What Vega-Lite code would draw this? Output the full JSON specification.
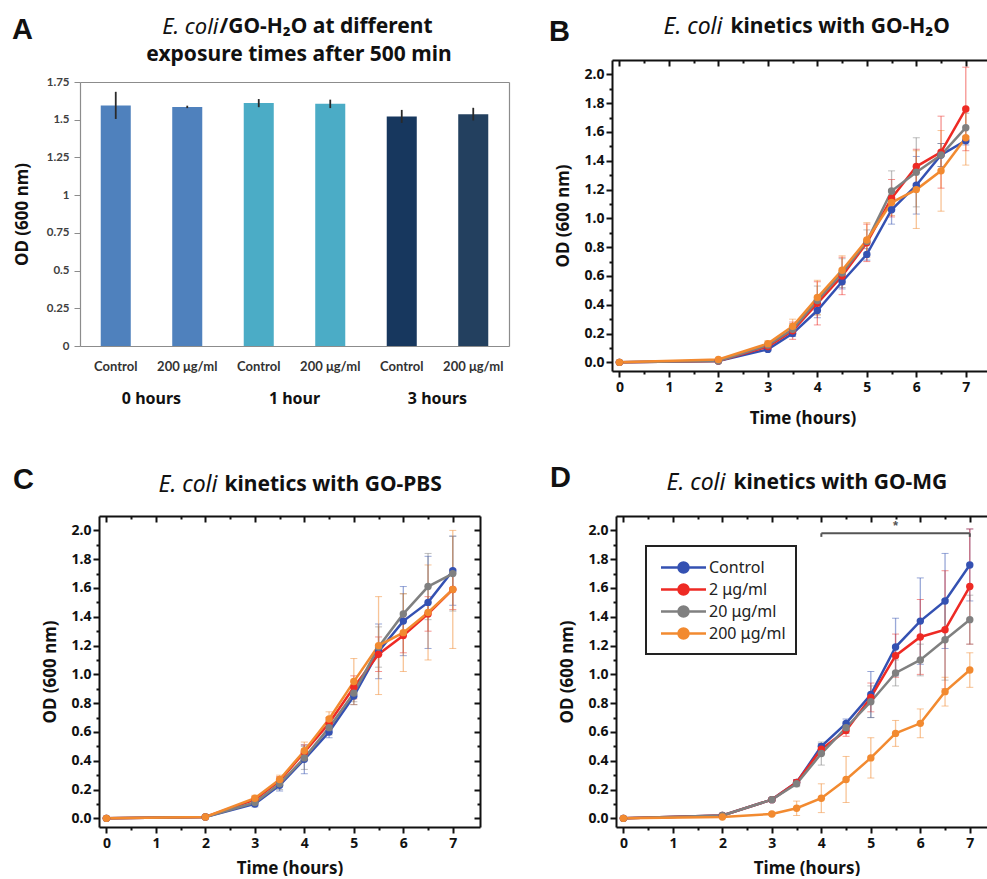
{
  "$schema": "https://vega.github.io/schema/vega-lite/v6.json",
  "padding": {"left": 12, "top": 15, "right": 0, "bottom": 0},
  "background": "white",
  "config": {
    "view": {"stroke": null},
    "axis": {"grid": false, "domainColor": "#111", "domainWidth": 2, "tickColor": "#111", "tickWidth": 2, "labelFont": "Noto Sans", "labelFontSize": 14, "labelFontWeight": "bold", "labelColor": "#111", "titleFont": "Noto Sans", "titleFontWeight": "bold", "titleColor": "#111", "labelFlush": false, "labelOverlap": false, "labelBound": false},
    "legend": {"strokeWidth": 2},
    "title": {"font": "Liberation Sans", "fontSize": 29, "fontWeight": "bold", "color": "#111", "anchor": "start", "frame": "group"}
  },
  "datasets": {
    "A": [
      {"grp": "0 hours", "cond": "Control", "key": "0 hours|Control", "od": 1.595, "err": 0.09},
      {"grp": "0 hours", "cond": "200 μg/ml", "key": "0 hours|200 μg/ml", "od": 1.585, "err": 0.008},
      {"grp": "1 hour", "cond": "Control", "key": "1 hour|Control", "od": 1.61, "err": 0.027},
      {"grp": "1 hour", "cond": "200 μg/ml", "key": "1 hour|200 μg/ml", "od": 1.605, "err": 0.028},
      {"grp": "3 hours", "cond": "Control", "key": "3 hours|Control", "od": 1.522, "err": 0.043},
      {"grp": "3 hours", "cond": "200 μg/ml", "key": "3 hours|200 μg/ml", "od": 1.537, "err": 0.042}
    ],
    "B": [
      {"t": 0, "s": "Control", "od": 0, "err": 0.005}, {"t": 2, "s": "Control", "od": 0.01, "err": 0.005}, {"t": 3, "s": "Control", "od": 0.09, "err": 0.01}, {"t": 3.5, "s": "Control", "od": 0.2, "err": 0.02}, {"t": 4, "s": "Control", "od": 0.36, "err": 0.05}, {"t": 4.5, "s": "Control", "od": 0.56, "err": 0.05}, {"t": 5, "s": "Control", "od": 0.75, "err": 0.04}, {"t": 5.5, "s": "Control", "od": 1.06, "err": 0.1}, {"t": 6, "s": "Control", "od": 1.23, "err": 0.2}, {"t": 6.5, "s": "Control", "od": 1.44, "err": 0.08}, {"t": 7, "s": "Control", "od": 1.54, "err": 0.03},
      {"t": 0, "s": "2 μg/ml", "od": 0, "err": 0.005}, {"t": 2, "s": "2 μg/ml", "od": 0.01, "err": 0.005}, {"t": 3, "s": "2 μg/ml", "od": 0.11, "err": 0.02}, {"t": 3.5, "s": "2 μg/ml", "od": 0.22, "err": 0.06}, {"t": 4, "s": "2 μg/ml", "od": 0.41, "err": 0.15}, {"t": 4.5, "s": "2 μg/ml", "od": 0.6, "err": 0.13}, {"t": 5, "s": "2 μg/ml", "od": 0.83, "err": 0.13}, {"t": 5.5, "s": "2 μg/ml", "od": 1.14, "err": 0.13}, {"t": 6, "s": "2 μg/ml", "od": 1.36, "err": 0.12}, {"t": 6.5, "s": "2 μg/ml", "od": 1.46, "err": 0.25}, {"t": 7, "s": "2 μg/ml", "od": 1.76, "err": 0.29},
      {"t": 0, "s": "20 μg/ml", "od": 0, "err": 0.005}, {"t": 2, "s": "20 μg/ml", "od": 0.01, "err": 0.005}, {"t": 3, "s": "20 μg/ml", "od": 0.12, "err": 0.02}, {"t": 3.5, "s": "20 μg/ml", "od": 0.23, "err": 0.04}, {"t": 4, "s": "20 μg/ml", "od": 0.43, "err": 0.1}, {"t": 4.5, "s": "20 μg/ml", "od": 0.62, "err": 0.1}, {"t": 5, "s": "20 μg/ml", "od": 0.84, "err": 0.08}, {"t": 5.5, "s": "20 μg/ml", "od": 1.19, "err": 0.14}, {"t": 6, "s": "20 μg/ml", "od": 1.32, "err": 0.24}, {"t": 6.5, "s": "20 μg/ml", "od": 1.44, "err": 0.08}, {"t": 7, "s": "20 μg/ml", "od": 1.63, "err": 0.1},
      {"t": 0, "s": "200 μg/ml", "od": 0, "err": 0.005}, {"t": 2, "s": "200 μg/ml", "od": 0.02, "err": 0.005}, {"t": 3, "s": "200 μg/ml", "od": 0.13, "err": 0.02}, {"t": 3.5, "s": "200 μg/ml", "od": 0.25, "err": 0.05}, {"t": 4, "s": "200 μg/ml", "od": 0.45, "err": 0.12}, {"t": 4.5, "s": "200 μg/ml", "od": 0.64, "err": 0.1}, {"t": 5, "s": "200 μg/ml", "od": 0.85, "err": 0.12}, {"t": 5.5, "s": "200 μg/ml", "od": 1.11, "err": 0.09}, {"t": 6, "s": "200 μg/ml", "od": 1.2, "err": 0.27}, {"t": 6.5, "s": "200 μg/ml", "od": 1.33, "err": 0.28}, {"t": 7, "s": "200 μg/ml", "od": 1.56, "err": 0.19}
    ],
    "C": [
      {"t": 0, "s": "Control", "od": 0, "err": 0.005}, {"t": 2, "s": "Control", "od": 0.01, "err": 0.005}, {"t": 3, "s": "Control", "od": 0.1, "err": 0.02}, {"t": 3.5, "s": "Control", "od": 0.23, "err": 0.04}, {"t": 4, "s": "Control", "od": 0.41, "err": 0.1}, {"t": 4.5, "s": "Control", "od": 0.6, "err": 0.04}, {"t": 5, "s": "Control", "od": 0.85, "err": 0.06}, {"t": 5.5, "s": "Control", "od": 1.16, "err": 0.19}, {"t": 6, "s": "Control", "od": 1.37, "err": 0.24}, {"t": 6.5, "s": "Control", "od": 1.5, "err": 0.32}, {"t": 7, "s": "Control", "od": 1.72, "err": 0.24},
      {"t": 0, "s": "2 μg/ml", "od": 0, "err": 0.005}, {"t": 2, "s": "2 μg/ml", "od": 0.01, "err": 0.005}, {"t": 3, "s": "2 μg/ml", "od": 0.13, "err": 0.02}, {"t": 3.5, "s": "2 μg/ml", "od": 0.26, "err": 0.03}, {"t": 4, "s": "2 μg/ml", "od": 0.46, "err": 0.05}, {"t": 4.5, "s": "2 μg/ml", "od": 0.66, "err": 0.04}, {"t": 5, "s": "2 μg/ml", "od": 0.91, "err": 0.08}, {"t": 5.5, "s": "2 μg/ml", "od": 1.14, "err": 0.12}, {"t": 6, "s": "2 μg/ml", "od": 1.27, "err": 0.12}, {"t": 6.5, "s": "2 μg/ml", "od": 1.42, "err": 0.12}, {"t": 7, "s": "2 μg/ml", "od": 1.59, "err": 0.14},
      {"t": 0, "s": "20 μg/ml", "od": 0, "err": 0.005}, {"t": 2, "s": "20 μg/ml", "od": 0.01, "err": 0.005}, {"t": 3, "s": "20 μg/ml", "od": 0.11, "err": 0.02}, {"t": 3.5, "s": "20 μg/ml", "od": 0.24, "err": 0.04}, {"t": 4, "s": "20 μg/ml", "od": 0.42, "err": 0.08}, {"t": 4.5, "s": "20 μg/ml", "od": 0.63, "err": 0.05}, {"t": 5, "s": "20 μg/ml", "od": 0.87, "err": 0.06}, {"t": 5.5, "s": "20 μg/ml", "od": 1.19, "err": 0.14}, {"t": 6, "s": "20 μg/ml", "od": 1.42, "err": 0.14}, {"t": 6.5, "s": "20 μg/ml", "od": 1.61, "err": 0.23}, {"t": 7, "s": "20 μg/ml", "od": 1.7, "err": 0.26},
      {"t": 0, "s": "200 μg/ml", "od": 0, "err": 0.005}, {"t": 2, "s": "200 μg/ml", "od": 0.01, "err": 0.005}, {"t": 3, "s": "200 μg/ml", "od": 0.14, "err": 0.02}, {"t": 3.5, "s": "200 μg/ml", "od": 0.27, "err": 0.03}, {"t": 4, "s": "200 μg/ml", "od": 0.47, "err": 0.06}, {"t": 4.5, "s": "200 μg/ml", "od": 0.69, "err": 0.05}, {"t": 5, "s": "200 μg/ml", "od": 0.95, "err": 0.16}, {"t": 5.5, "s": "200 μg/ml", "od": 1.2, "err": 0.34}, {"t": 6, "s": "200 μg/ml", "od": 1.29, "err": 0.27}, {"t": 6.5, "s": "200 μg/ml", "od": 1.43, "err": 0.33}, {"t": 7, "s": "200 μg/ml", "od": 1.59, "err": 0.41}
    ],
    "D": [
      {"t": 0, "s": "Control", "od": 0, "err": 0.005}, {"t": 2, "s": "Control", "od": 0.02, "err": 0.005}, {"t": 3, "s": "Control", "od": 0.13, "err": 0.01}, {"t": 3.5, "s": "Control", "od": 0.25, "err": 0.02}, {"t": 4, "s": "Control", "od": 0.5, "err": 0.02}, {"t": 4.5, "s": "Control", "od": 0.66, "err": 0.03}, {"t": 5, "s": "Control", "od": 0.86, "err": 0.16}, {"t": 5.5, "s": "Control", "od": 1.19, "err": 0.2}, {"t": 6, "s": "Control", "od": 1.37, "err": 0.3}, {"t": 6.5, "s": "Control", "od": 1.51, "err": 0.33}, {"t": 7, "s": "Control", "od": 1.76, "err": 0.25},
      {"t": 0, "s": "2 μg/ml", "od": 0, "err": 0.005}, {"t": 2, "s": "2 μg/ml", "od": 0.02, "err": 0.005}, {"t": 3, "s": "2 μg/ml", "od": 0.13, "err": 0.01}, {"t": 3.5, "s": "2 μg/ml", "od": 0.25, "err": 0.02}, {"t": 4, "s": "2 μg/ml", "od": 0.48, "err": 0.03}, {"t": 4.5, "s": "2 μg/ml", "od": 0.61, "err": 0.04}, {"t": 5, "s": "2 μg/ml", "od": 0.84, "err": 0.1}, {"t": 5.5, "s": "2 μg/ml", "od": 1.13, "err": 0.15}, {"t": 6, "s": "2 μg/ml", "od": 1.26, "err": 0.26}, {"t": 6.5, "s": "2 μg/ml", "od": 1.31, "err": 0.41}, {"t": 7, "s": "2 μg/ml", "od": 1.61, "err": 0.4},
      {"t": 0, "s": "20 μg/ml", "od": 0, "err": 0.005}, {"t": 2, "s": "20 μg/ml", "od": 0.02, "err": 0.005}, {"t": 3, "s": "20 μg/ml", "od": 0.13, "err": 0.01}, {"t": 3.5, "s": "20 μg/ml", "od": 0.24, "err": 0.02}, {"t": 4, "s": "20 μg/ml", "od": 0.45, "err": 0.08}, {"t": 4.5, "s": "20 μg/ml", "od": 0.63, "err": 0.04}, {"t": 5, "s": "20 μg/ml", "od": 0.81, "err": 0.11}, {"t": 5.5, "s": "20 μg/ml", "od": 1.01, "err": 0.09}, {"t": 6, "s": "20 μg/ml", "od": 1.1, "err": 0.11}, {"t": 6.5, "s": "20 μg/ml", "od": 1.24, "err": 0.28}, {"t": 7, "s": "20 μg/ml", "od": 1.38, "err": 0.17},
      {"t": 0, "s": "200 μg/ml", "od": 0, "err": 0.005}, {"t": 2, "s": "200 μg/ml", "od": 0.01, "err": 0.005}, {"t": 3, "s": "200 μg/ml", "od": 0.03, "err": 0.01}, {"t": 3.5, "s": "200 μg/ml", "od": 0.07, "err": 0.05}, {"t": 4, "s": "200 μg/ml", "od": 0.14, "err": 0.1}, {"t": 4.5, "s": "200 μg/ml", "od": 0.27, "err": 0.16}, {"t": 5, "s": "200 μg/ml", "od": 0.42, "err": 0.14}, {"t": 5.5, "s": "200 μg/ml", "od": 0.59, "err": 0.09}, {"t": 6, "s": "200 μg/ml", "od": 0.66, "err": 0.1}, {"t": 6.5, "s": "200 μg/ml", "od": 0.88, "err": 0.1}, {"t": 7, "s": "200 μg/ml", "od": 1.03, "err": 0.12}
    ],
    "sig": [{"x1": 4, "x2": 7, "y": 1.98, "star": "*", "xs": 5.5, "ys": 2.03}],
    "caps": [{"x": 4, "y": 1.98, "y2": 1.955}, {"x": 7, "y": 1.98, "y2": 1.955}]
  },
  "resolve": {"scale": {"color": "independent"}, "legend": {"color": "independent"}},
  "spacing": 38,
  "vconcat": [
    {
      "spacing": 21,
      "resolve": {"scale": {"color": "independent"}, "legend": {"color": "independent"}},
      "hconcat": [
        {
          "width": 410, "height": 286,
          "data": {"name": "A"},
          "title": {"text": "A", "dx": -87, "offset": -30},
          "resolve": {"scale": {"x": "independent", "y": "independent", "color": "independent"}},
          "layer": [
            {
              "encoding": {
                "x": {"field": "key", "type": "nominal", "sort": null, "scale": {"range": [-19, 410], "paddingInner": 0.58, "paddingOuter": 0.29},
                  "axis": {"labelExpr": "slice(datum.label, indexof(datum.label, '|') + 1)", "labelAngle": 0, "ticks": false, "domain": true, "domainColor": "#8c8c8c", "domainWidth": 1.2, "labelFont": "Lato", "labelFontSize": 13, "labelFontWeight": "bold", "labelColor": "#333", "labelPadding": 14, "title": null}},
                "y": {"field": "od", "type": "quantitative", "scale": {"domain": [0, 1.75], "range": [286, 22], "nice": false, "zero": true},
                  "axis": {"offset": 19, "values": [0, 0.25, 0.5, 0.75, 1, 1.25, 1.5, 1.75], "format": ".2~f", "labelFont": "Lato", "labelFontSize": 11.5, "labelColor": "#404040", "tickColor": "#8c8c8c", "tickSize": 6, "tickWidth": 1, "domain": true, "domainColor": "#8c8c8c", "domainWidth": 1.2, "labelPadding": 5, "title": "OD (600 nm)", "titleFontSize": 17, "titlePadding": 15}}
              },
              "layer": [
                {"mark": {"type": "bar"}, "encoding": {"color": {"field": "key", "type": "nominal", "sort": null, "scale": {"range": ["#4f81bd", "#4f81bd", "#4bacc6", "#4bacc6", "#17375e", "#23405f"]}, "legend": null}}},
                {"mark": {"type": "errorbar", "color": "#2a2a2a", "rule": {"strokeWidth": 1.8}}, "encoding": {"yError": {"field": "err"}}}
              ]
            },
            {
              "mark": {"type": "bar", "opacity": 0},
              "encoding": {
                "x": {"field": "grp", "type": "nominal", "sort": null, "scale": {"range": [-19, 410], "paddingInner": 0, "paddingOuter": 0},
                  "axis": {"orient": "bottom", "ticks": false, "domain": false, "labelAngle": 0, "labelFontSize": 16, "labelPadding": 44, "title": null}},
                "y": {"field": "od", "type": "quantitative", "stack": null, "scale": {"domain": [0, 1.75], "range": [286, 22], "nice": false},
                  "axis": {"orient": "right", "ticks": false, "labels": false, "domain": true, "domainColor": "#8c8c8c", "domainWidth": 1.2,
                    "title": "exposure times after 500 min", "titleAngle": 0, "titleX": -210.5, "titleY": -6, "titleAlign": "center", "titleBaseline": "middle", "titleFontSize": 21}}
              }
            },
            {
              "mark": {"type": "point", "opacity": 0},
              "encoding": {
                "x": {"field": "od", "type": "quantitative", "scale": {"domain": [0, 2], "range": [-19, 410], "nice": false, "zero": false},
                  "axis": {"orient": "top", "offset": -22, "ticks": false, "labels": false, "domain": true, "domainColor": "#8c8c8c", "domainWidth": 1.2,
                    "title": "E. coli", "titleX": 119, "titleY": -56, "titleAlign": "right", "titleBaseline": "middle", "titleFontStyle": "italic", "titleFontWeight": "normal", "titleFontSize": 22}},
                "y": {"field": "od", "type": "quantitative", "axis": null}
              }
            },
            {
              "mark": {"type": "point", "opacity": 0},
              "encoding": {
                "x": {"field": "od", "type": "quantitative", "scale": {"domain": [0, 2], "range": [-19, 410], "nice": false, "zero": false},
                  "axis": {"orient": "top", "offset": -22, "ticks": false, "labels": false, "domain": false,
                    "title": "/GO-H₂O at different", "titleX": 120, "titleY": -56, "titleAlign": "left", "titleBaseline": "middle", "titleFontSize": 21}},
                "y": {"field": "od", "type": "quantitative", "axis": null}
              }
            }
          ]
        },
        {
          "width": 381, "height": 311,
          "data": {"name": "B"},
          "title": {"text": "B", "dx": -63, "offset": -32},
          "resolve": {"scale": {"x": "independent", "y": "independent"}},
          "layer": [
            {
              "encoding": {
                "x": {"field": "t", "type": "quantitative", "scale": {"domain": [-0.15, 7.55], "nice": false, "zero": false},
                  "axis": {"orient": "bottom", "values": [0, 0.5, 1, 1.5, 2, 2.5, 3, 3.5, 4, 4.5, 5, 5.5, 6, 6.5, 7], "format": ".0f", "labelExpr": "datum.value % 1 === 0 ? datum.label : ''", "tickSize": {"condition": {"test": "datum.value % 1 === 0", "value": 6}, "value": 3}, "labelPadding": 3, "title": "Time (hours)", "titleFontSize": 17, "titlePadding": 16}},
                "y": {"field": "od", "type": "quantitative", "scale": {"domain": [-0.06, 2.1], "nice": false, "zero": false},
                  "axis": {"orient": "left", "values": [0, 0.1, 0.2, 0.3, 0.4, 0.5, 0.6, 0.7, 0.8, 0.9, 1, 1.1, 1.2, 1.3, 1.4, 1.5, 1.6, 1.7, 1.8, 1.9, 2], "format": ".1f", "labelExpr": "round(datum.value * 10) % 2 === 0 ? datum.label : ''", "tickSize": {"condition": {"test": "round(datum.value * 10) % 2 === 0", "value": 6}, "value": 3}, "labelPadding": 2, "title": "OD (600 nm)", "titleFontSize": 17, "titlePadding": 12}},
                "color": {"field": "s", "type": "nominal", "scale": {"domain": ["Control", "2 μg/ml", "20 μg/ml", "200 μg/ml"], "range": ["#3451b2", "#ee2a24", "#808080", "#f28a30"]}, "legend": null}
              },
              "layer": [
                {"mark": {"type": "errorbar", "ticks": {"size": 7, "opacity": 0.5, "strokeWidth": 1.3}, "rule": {"opacity": 0.5, "strokeWidth": 1.3}}, "encoding": {"yError": {"field": "err"}}},
                {"mark": {"type": "line", "strokeWidth": 2.5}},
                {"mark": {"type": "point", "filled": true, "size": 55, "opacity": 1}}
              ]
            },
            {
              "mark": {"type": "point", "opacity": 0},
              "encoding": {
                "x": {"field": "t", "type": "quantitative", "scale": {"domain": [-0.15, 7.55], "nice": false, "zero": false},
                  "axis": {"orient": "top", "values": [0, 0.5, 1, 1.5, 2, 2.5, 3, 3.5, 4, 4.5, 5, 5.5, 6, 6.5, 7], "labels": false, "tickSize": {"condition": {"test": "datum.value % 1 === 0", "value": -6}, "value": -3},
                    "title": "kinetics with GO-H₂O", "titleX": 118, "titleY": -34, "titleAlign": "left", "titleBaseline": "middle", "titleFontSize": 21}},
                "y": {"field": "od", "type": "quantitative", "scale": {"domain": [-0.06, 2.1], "nice": false, "zero": false},
                  "axis": {"orient": "right", "values": [0, 0.1, 0.2, 0.3, 0.4, 0.5, 0.6, 0.7, 0.8, 0.9, 1, 1.1, 1.2, 1.3, 1.4, 1.5, 1.6, 1.7, 1.8, 1.9, 2], "labels": false, "tickSize": {"condition": {"test": "round(datum.value * 10) % 2 === 0", "value": -6}, "value": -3},
                    "title": "E. coli", "titleAngle": 0, "titleX": -271, "titleY": -34, "titleAlign": "right", "titleBaseline": "middle", "titleFontStyle": "italic", "titleFontWeight": "normal", "titleFontSize": 23}}
              }
            }
          ]
        }
      ]
    },
    {
      "spacing": 69,
      "resolve": {"scale": {"color": "independent"}, "legend": {"color": "independent"}},
      "hconcat": [
        {
          "width": 381, "height": 311,
          "data": {"name": "C"},
          "title": {"text": "C", "dx": -86, "offset": -22},
          "resolve": {"scale": {"x": "independent", "y": "independent"}},
          "layer": [
            {
              "encoding": {
                "x": {"field": "t", "type": "quantitative", "scale": {"domain": [-0.15, 7.55], "nice": false, "zero": false},
                  "axis": {"orient": "bottom", "values": [0, 0.5, 1, 1.5, 2, 2.5, 3, 3.5, 4, 4.5, 5, 5.5, 6, 6.5, 7], "format": ".0f", "labelExpr": "datum.value % 1 === 0 ? datum.label : ''", "tickSize": {"condition": {"test": "datum.value % 1 === 0", "value": 6}, "value": 3}, "labelPadding": 3, "title": "Time (hours)", "titleFontSize": 17, "titlePadding": 10}},
                "y": {"field": "od", "type": "quantitative", "scale": {"domain": [-0.06, 2.1], "nice": false, "zero": false},
                  "axis": {"orient": "left", "values": [0, 0.1, 0.2, 0.3, 0.4, 0.5, 0.6, 0.7, 0.8, 0.9, 1, 1.1, 1.2, 1.3, 1.4, 1.5, 1.6, 1.7, 1.8, 1.9, 2], "format": ".1f", "labelExpr": "round(datum.value * 10) % 2 === 0 ? datum.label : ''", "tickSize": {"condition": {"test": "round(datum.value * 10) % 2 === 0", "value": 6}, "value": 3}, "labelPadding": 2, "title": "OD (600 nm)", "titleFontSize": 17, "titlePadding": 12}},
                "color": {"field": "s", "type": "nominal", "scale": {"domain": ["Control", "2 μg/ml", "20 μg/ml", "200 μg/ml"], "range": ["#3451b2", "#ee2a24", "#808080", "#f28a30"]}, "legend": null}
              },
              "layer": [
                {"mark": {"type": "errorbar", "ticks": {"size": 7, "opacity": 0.5, "strokeWidth": 1.3}, "rule": {"opacity": 0.5, "strokeWidth": 1.3}}, "encoding": {"yError": {"field": "err"}}},
                {"mark": {"type": "line", "strokeWidth": 2.5}},
                {"mark": {"type": "point", "filled": true, "size": 55, "opacity": 1}}
              ]
            },
            {
              "mark": {"type": "point", "opacity": 0},
              "encoding": {
                "x": {"field": "t", "type": "quantitative", "scale": {"domain": [-0.15, 7.55], "nice": false, "zero": false},
                  "axis": {"orient": "top", "values": [0, 0.5, 1, 1.5, 2, 2.5, 3, 3.5, 4, 4.5, 5, 5.5, 6, 6.5, 7], "labels": false, "tickSize": {"condition": {"test": "datum.value % 1 === 0", "value": -6}, "value": -3},
                    "title": "kinetics with GO-PBS", "titleX": 125, "titleY": -32, "titleAlign": "left", "titleBaseline": "middle", "titleFontSize": 21}},
                "y": {"field": "od", "type": "quantitative", "scale": {"domain": [-0.06, 2.1], "nice": false, "zero": false},
                  "axis": {"orient": "right", "values": [0, 0.1, 0.2, 0.3, 0.4, 0.5, 0.6, 0.7, 0.8, 0.9, 1, 1.1, 1.2, 1.3, 1.4, 1.5, 1.6, 1.7, 1.8, 1.9, 2], "labels": false, "tickSize": {"condition": {"test": "round(datum.value * 10) % 2 === 0", "value": -6}, "value": -3},
                    "title": "E. coli", "titleAngle": 0, "titleX": -263, "titleY": -32, "titleAlign": "right", "titleBaseline": "middle", "titleFontStyle": "italic", "titleFontWeight": "normal", "titleFontSize": 23}}
              }
            }
          ]
        },
        {
          "width": 381, "height": 311,
          "data": {"name": "D"},
          "title": {"text": "D", "dx": -66, "offset": -22},
          "resolve": {"scale": {"x": "independent", "y": "independent"}},
          "layer": [
            {
              "encoding": {
                "x": {"field": "t", "type": "quantitative", "scale": {"domain": [-0.15, 7.55], "nice": false, "zero": false},
                  "axis": {"orient": "bottom", "values": [0, 0.5, 1, 1.5, 2, 2.5, 3, 3.5, 4, 4.5, 5, 5.5, 6, 6.5, 7], "format": ".0f", "labelExpr": "datum.value % 1 === 0 ? datum.label : ''", "tickSize": {"condition": {"test": "datum.value % 1 === 0", "value": 6}, "value": 3}, "labelPadding": 3, "title": "Time (hours)", "titleFontSize": 17, "titlePadding": 10}},
                "y": {"field": "od", "type": "quantitative", "scale": {"domain": [-0.06, 2.1], "nice": false, "zero": false},
                  "axis": {"orient": "left", "values": [0, 0.1, 0.2, 0.3, 0.4, 0.5, 0.6, 0.7, 0.8, 0.9, 1, 1.1, 1.2, 1.3, 1.4, 1.5, 1.6, 1.7, 1.8, 1.9, 2], "format": ".1f", "labelExpr": "round(datum.value * 10) % 2 === 0 ? datum.label : ''", "tickSize": {"condition": {"test": "round(datum.value * 10) % 2 === 0", "value": 6}, "value": 3}, "labelPadding": 2, "title": "OD (600 nm)", "titleFontSize": 17, "titlePadding": 12}},
                "color": {"field": "s", "type": "nominal", "scale": {"domain": ["Control", "2 μg/ml", "20 μg/ml", "200 μg/ml"], "range": ["#3451b2", "#ee2a24", "#808080", "#f28a30"]},
                  "legend": {"orient": "top-left", "offset": 30, "title": null, "strokeColor": "#222", "padding": 10, "labelFont": "Noto Sans", "labelFontSize": 16, "labelColor": "#222", "symbolType": "M-2.25,0L-0.5,0M0.5,0L2.25,0M0.5,0A0.5,0.5,0,1,1,-0.5,0A0.5,0.5,0,1,1,0.5,0", "symbolSize": 400, "symbolStrokeWidth": 2.5, "symbolOpacity": 1, "symbolOffset": 16, "labelOffset": 14, "rowPadding": 0}}
              },
              "layer": [
                {"mark": {"type": "errorbar", "ticks": {"size": 7, "opacity": 0.5, "strokeWidth": 1.3}, "rule": {"opacity": 0.5, "strokeWidth": 1.3}}, "encoding": {"yError": {"field": "err"}}},
                {"mark": {"type": "line", "strokeWidth": 2.5}},
                {"mark": {"type": "point", "filled": true, "size": 55, "opacity": 1}}
              ]
            },
            {
              "mark": {"type": "point", "opacity": 0},
              "encoding": {
                "x": {"field": "t", "type": "quantitative", "scale": {"domain": [-0.15, 7.55], "nice": false, "zero": false},
                  "axis": {"orient": "top", "values": [0, 0.5, 1, 1.5, 2, 2.5, 3, 3.5, 4, 4.5, 5, 5.5, 6, 6.5, 7], "labels": false, "tickSize": {"condition": {"test": "datum.value % 1 === 0", "value": -6}, "value": -3},
                    "title": "kinetics with GO-MG", "titleX": 117, "titleY": -34, "titleAlign": "left", "titleBaseline": "middle", "titleFontSize": 21}},
                "y": {"field": "od", "type": "quantitative", "scale": {"domain": [-0.06, 2.1], "nice": false, "zero": false},
                  "axis": {"orient": "right", "values": [0, 0.1, 0.2, 0.3, 0.4, 0.5, 0.6, 0.7, 0.8, 0.9, 1, 1.1, 1.2, 1.3, 1.4, 1.5, 1.6, 1.7, 1.8, 1.9, 2], "labels": false, "tickSize": {"condition": {"test": "round(datum.value * 10) % 2 === 0", "value": -6}, "value": -3},
                    "title": "E. coli", "titleAngle": 0, "titleX": -272, "titleY": -34, "titleAlign": "right", "titleBaseline": "middle", "titleFontStyle": "italic", "titleFontWeight": "normal", "titleFontSize": 23}}
              }
            },
            {
              "data": {"name": "sig"},
              "layer": [
                {"mark": {"type": "rule", "color": "#555", "strokeWidth": 2},
                  "encoding": {"x": {"field": "x1", "type": "quantitative", "scale": {"domain": [-0.15, 7.55], "nice": false, "zero": false}, "axis": null}, "x2": {"field": "x2"}, "y": {"field": "y", "type": "quantitative", "scale": {"domain": [-0.06, 2.1], "nice": false, "zero": false}, "axis": null}}},
                {"mark": {"type": "text", "color": "#555", "fontSize": 13, "fontWeight": "bold"},
                  "encoding": {"x": {"field": "xs", "type": "quantitative"}, "y": {"field": "ys", "type": "quantitative"}, "text": {"field": "star"}}},
                {"data": {"name": "caps"}, "mark": {"type": "rule", "color": "#555", "strokeWidth": 2},
                  "encoding": {"x": {"field": "x", "type": "quantitative"}, "y": {"field": "y", "type": "quantitative"}, "y2": {"field": "y2"}}}
              ]
            }
          ]
        }
      ]
    }
  ]
}
